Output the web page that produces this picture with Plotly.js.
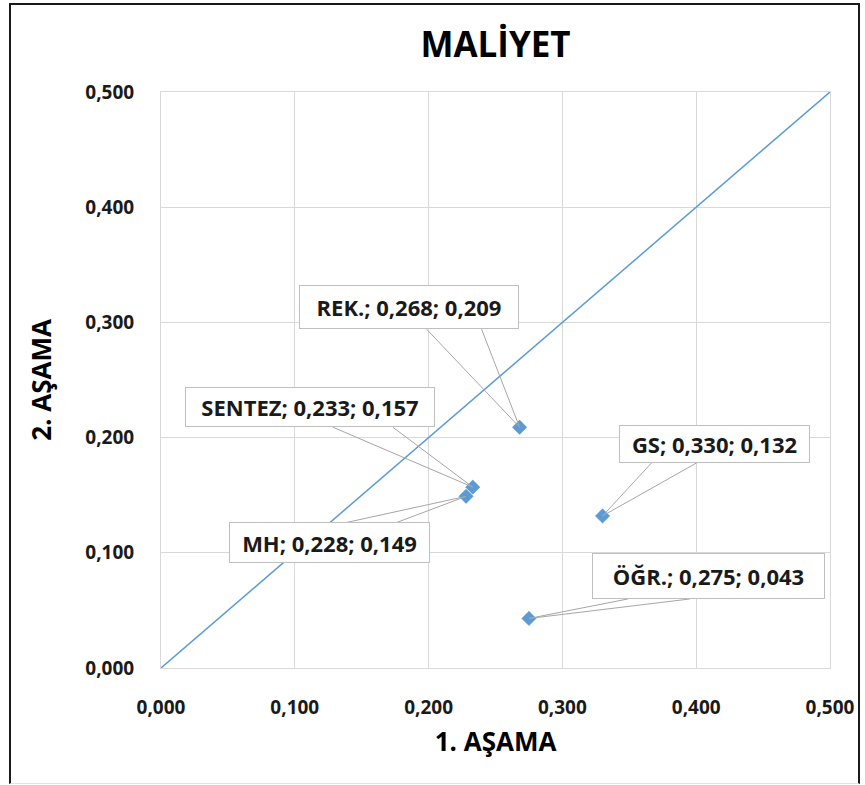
<!DOCTYPE html>
<html>
<head>
<meta charset="utf-8">
<script src="https://cdn.plot.ly/plotly-3.0.1.min.js"></script>
<style>
  html, body { margin: 0; padding: 0; background: #ffffff; overflow: hidden; }
  #frame { position: absolute; left: 9px; top: 3px; width: 851px; height: 781px; box-sizing: border-box;
           border-left: 2px solid #1a1a1a; border-top: 2px solid #1a1a1a; border-right: 2px solid #1a1a1a;
           border-bottom: 1px solid #e3e3e3; }
  #chart { position: absolute; left: 0; top: 0; width: 865px; height: 785px; }
</style>
</head>
<body>
<div id="frame"></div>
<div id="chart"></div>
<script>
// ---- data ----
const pointNames = ['REK.', 'SENTEZ', 'MH', 'GS', 'ÖĞR.'];
const stage1 = [0.268, 0.233, 0.228, 0.330, 0.275];   // 1. AŞAMA
const stage2 = [0.209, 0.157, 0.149, 0.132, 0.043];   // 2. AŞAMA
const refLineX = [0, 0.5];
const refLineY = [0, 0.5];
const tickValues = [0, 0.1, 0.2, 0.3, 0.4, 0.5];
const tickLabels = ['0,000', '0,100', '0,200', '0,300', '0,400', '0,500'];
const chartTitle = 'MALİYET';
const xTitle = '1. AŞAMA';
const yTitle = '2. AŞAMA';

// ---- label placement (pixel offsets from each point; screen y grows downward) ----
const labelBox = [
  {dx: -111,  dy: -120,  w: 220, h: 44, wedge: [[-93, -98], [-38, -98]]},
  {dx: -163,  dy: -80,   w: 250, h: 40, wedge: [[-140, -60], [-80, -60]]},
  {dx: -137,  dy: 46,    w: 201, h: 41, wedge: [[-119, 26], [-69, 26]]},
  {dx: 112,   dy: -72,   w: 191, h: 38, wedge: [[49, -53], [94, -53]]},
  {dx: 179.5, dy: -42.5, w: 233, h: 46, wedge: [[99, -19.5], [161, -19.5]]}
];

const FONT = '"Open Sans", "Noto Sans", sans-serif';
const TEXTC = '#1a1a1a';
const fmt = v => v.toFixed(3).replace('.', ',');

const traces = [
  {
    x: refLineX, y: refLineY, type: 'scatter', mode: 'lines',
    line: {color: '#5b9bd5', width: 1.5}, hoverinfo: 'skip', showlegend: false
  },
  {
    x: stage1, y: stage2, type: 'scatter', mode: 'markers',
    marker: {symbol: 'diamond', size: 11, color: '#5b9bd5', line: {color: '#4a8ac8', width: 0.5}},
    showlegend: false
  }
];

const annotations = [];
const shapes = [];
pointNames.forEach((n, i) => {
  const b = labelBox[i];
  annotations.push({
    x: stage1[i], y: stage2[i], xref: 'x', yref: 'y',
    text: n + '; ' + fmt(stage1[i]) + '; ' + fmt(stage2[i]),
    showarrow: false, xshift: b.dx, yshift: -b.dy,
    width: b.w - 2, height: b.h - 2, borderpad: 0,
    bgcolor: '#ffffff', bordercolor: '#bfbfbf', borderwidth: 1,
    font: {family: FONT, size: 22, color: TEXTC, weight: 700},
    xanchor: 'center', yanchor: 'middle'
  });
  const p = b.wedge;
  shapes.push({
    type: 'path', xref: 'x', yref: 'y',
    xsizemode: 'pixel', ysizemode: 'pixel',
    xanchor: stage1[i], yanchor: stage2[i],
    path: 'M0,0L' + p[0][0] + ',' + (-p[0][1]) + 'M0,0L' + p[1][0] + ',' + (-p[1][1]),
    line: {color: '#a6a6a6', width: 1}, layer: 'above'
  });
});

const axisCommon = {
  range: [0, 0.5], tickvals: tickValues, ticktext: tickLabels,
  showgrid: true, gridcolor: '#d9d9d9', gridwidth: 1,
  showline: true, linecolor: '#d9d9d9', linewidth: 1, mirror: true,
  zeroline: false, ticks: '', fixedrange: true,
  tickfont: {family: FONT, size: 19, color: TEXTC, weight: 700}
};

const layout = {
  width: 865, height: 785,
  margin: {l: 161, r: 35, t: 92, b: 117},
  paper_bgcolor: 'rgba(0,0,0,0)', plot_bgcolor: 'rgba(0,0,0,0)',
  separators: ',.',
  title: {
    text: chartTitle, x: 0.5, xref: 'paper', y: 1 - 45 / 785, yref: 'container',
    xanchor: 'center', yanchor: 'middle',
    font: {family: FONT, size: 35, color: '#000000', weight: 700}
  },
  xaxis: Object.assign({}, axisCommon, {
    ticklabelstandoff: 22,
    title: {text: xTitle, standoff: 14, font: {family: FONT, size: 26, color: '#000000', weight: 700}}
  }),
  yaxis: Object.assign({}, axisCommon, {
    ticklabelstandoff: 22,
    title: {text: yTitle, standoff: 26, font: {family: FONT, size: 26, color: '#000000', weight: 700}}
  }),
  annotations: annotations,
  shapes: shapes,
  hovermode: false,
  showlegend: false
};

Plotly.newPlot('chart', traces, layout, {displayModeBar: false, staticPlot: true});
</script>
</body>
</html>
